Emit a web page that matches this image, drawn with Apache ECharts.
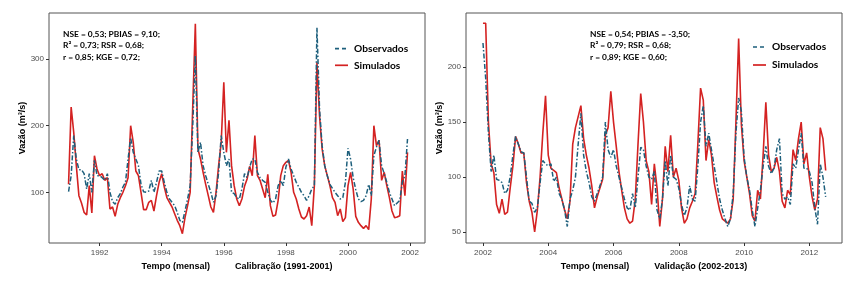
<!DOCTYPE html>
<html>
<head>
<meta charset="utf-8">
<script src="https://cdn.jsdelivr.net/npm/echarts@6/dist/echarts.min.js"></script>
<style>
  html, body { margin: 0; padding: 0; background: #fff; }
  #chart { width: 853px; height: 283px; }
</style>
</head>
<body>
<div id="chart"></div>
<script>
// monthly series, calibration starts Jan 1991, validation starts Jan 2002
const calStart = 1991;
const valStart = 2002;

const calObs = [
  101, 125, 185, 150, 134, 134, 128, 105, 128, 100, 148, 125,
  125, 122, 118, 128, 100, 86, 82, 92, 98, 108, 115, 150,
  182, 160, 150, 140, 112, 101, 100, 102, 118, 100, 115, 132,
  132, 115, 100, 90, 85, 80, 70, 58, 55, 72, 90, 110,
  200, 305, 160, 175, 140, 125, 112, 100, 85, 95, 130, 185,
  160, 140, 150, 100, 98, 92, 90, 105, 128, 122, 138, 150,
  150, 130, 122, 118, 115, 100, 88, 84, 90, 110, 118, 110,
  138, 150, 135, 125, 115, 108, 100, 95, 88, 95, 105, 110,
  347, 225, 170, 140, 125, 112, 106, 100, 95, 90, 92, 115,
  166, 150, 122, 104, 90, 86, 88, 95, 112, 95, 155, 168,
  178, 140, 128, 115, 100, 90, 80, 84, 88, 115, 125, 180
];
const calSim = [
  112, 228, 190, 140, 95, 84, 70, 66, 110, 69, 155, 135,
  125, 128, 118, 122, 75, 78, 64, 82, 92, 100, 110, 122,
  200, 175, 132, 125, 100, 74, 74, 85, 88, 72, 95, 115,
  128, 108, 92, 85, 78, 68, 58, 50, 38, 62, 80, 100,
  230, 353, 165, 150, 130, 112, 95, 78, 70, 100, 140, 175,
  265, 160, 208, 140, 110, 90, 80, 90, 109, 120, 139, 125,
  185, 125, 118, 105, 92, 127, 80, 64, 66, 88, 125, 140,
  145, 148, 130, 100, 90, 75, 63, 60, 65, 78, 50, 110,
  295, 215, 165, 140, 125, 110, 92, 85, 65, 75, 56, 62,
  110, 130, 105, 64, 55, 50, 46, 50, 44, 90, 200, 170,
  178, 118, 130, 110, 92, 72, 62, 63, 65, 132, 95, 160
];
const valObs = [
  222, 190, 140, 105, 120, 98, 97, 95, 85, 88, 100, 120,
  137, 130, 123, 122, 100, 78, 76, 68, 72, 95, 115, 112,
  110, 112, 96, 100, 85, 80, 70, 55, 80, 88, 100, 130,
  158, 120, 105, 95, 82, 78, 85, 92, 100, 150, 125, 118,
  125, 110, 100, 90, 80, 72, 70, 85, 72, 100, 127, 125,
  110, 100, 98, 105, 70, 62, 80, 115, 92, 120, 100, 98,
  90, 75, 65, 72, 92, 80, 78, 110, 150, 165, 128, 140,
  125, 110, 95, 80, 70, 62, 55, 62, 85, 140, 172, 160,
  118, 100, 88, 70, 55, 72, 88, 110, 128, 110, 103, 108,
  125, 135, 85, 80, 82, 75, 112, 108, 125, 140, 108, 108,
  105, 95, 72, 57, 112, 100, 82
];
const valSim = [
  240, 240, 150, 112, 104, 75, 67, 80, 66, 68, 90, 110,
  137, 130, 122, 122, 95, 78, 68, 50, 70, 100, 140, 174,
  120, 108, 106, 104, 90, 80, 70, 62, 78, 130, 145, 155,
  165, 135, 120, 108, 92, 72, 82, 90, 98, 138, 145, 178,
  150, 128, 105, 88, 72, 62, 58, 60, 80, 130, 176, 150,
  115, 105, 75, 112, 90, 55, 80, 128, 105, 138, 100, 108,
  97, 72, 58, 62, 72, 78, 85, 130, 181, 170, 115, 134,
  120, 95, 82, 70, 62, 60, 58, 62, 80, 150, 226, 148,
  115, 100, 85, 65, 60, 88, 80, 120, 168, 120, 105, 108,
  118, 105, 78, 72, 88, 84, 125, 115, 135, 150, 112, 122,
  100, 82, 70, 80, 145, 135, 106
];

const calTicks = [1992, 1994, 1996, 1998, 2000, 2002];
const valTicks = [2002, 2004, 2006, 2008, 2010, 2012];
const calYTicks = [100, 200, 300];
const valYTicks = [50, 100, 150, 200];

const calStats = ['NSE = 0,53; PBIAS = 9,10;', 'R² = 0,73; RSR = 0,68;', 'r = 0,85; KGE = 0,72;'];
const valStats = ['NSE = 0,54; PBIAS = -3,50;', 'R² = 0,79; RSR = 0,68;', 'r = 0,89; KGE = 0,60;'];
const legendNames = ['Observados', 'Simulados'];

const obsColor = '#1d5f7c';
const simColor = '#d42222';
const obsDash = [5, 2, 1.5, 2];

function toPairs(start, vals) {
  return vals.map((v, i) => [start + i / 12, v]);
}

const chart = echarts.init(document.getElementById('chart'));

function xAxis(idx, min, max, ticks, title) {
  return {
    type: 'value', gridIndex: idx, min: min, max: max,
    name: title, nameLocation: 'middle', nameGap: 16,
    nameTextStyle: { fontFamily: 'Liberation Sans', fontWeight: 'bold', fontSize: 9, color: '#000' },
    axisLine: { show: false },
    axisTick: { show: true, length: 3, customValues: ticks, lineStyle: { color: '#333' } },
    axisLabel: { customValues: ticks, margin: 6, color: '#4d4d4d', fontFamily: 'Liberation Sans', fontSize: 8,
      formatter: v => String(Math.round(v)) },
    splitLine: { show: false }
  };
}
function yAxis(idx, min, max, ticks) {
  return {
    type: 'value', gridIndex: idx, min: min, max: max,
    name: 'Vazão (m³/s)', nameLocation: 'middle', nameGap: 19,
    nameTextStyle: { fontFamily: 'Liberation Sans', fontWeight: 'bold', fontSize: 9, color: '#000' },
    axisLine: { show: false },
    axisTick: { show: true, length: 3, customValues: ticks, lineStyle: { color: '#333' } },
    axisLabel: { customValues: ticks, margin: 5, color: '#4d4d4d', fontFamily: 'Liberation Sans', fontSize: 8 },
    splitLine: { show: false }
  };
}

// hand-drawn legend: short line sample + label
function legendItems(x, ys) {
  const out = [];
  legendNames.forEach((name, k) => {
    const obs = k === 0;
    out.push({
      type: 'line', shape: { x1: x, y1: ys[k], x2: x + 13, y2: ys[k] },
      style: { stroke: obs ? obsColor : simColor, lineWidth: 1.7, lineDash: obs ? [4, 3] : null }
    });
    out.push({
      type: 'text', x: x + 19, y: ys[k],
      style: { text: name, fill: '#000', font: 'bold 10.2px Lato', textVerticalAlign: 'middle' }
    });
  });
  return out;
}

function statsText(x, y, lines) {
  return {
    type: 'text', x: x, y: y,
    style: { text: lines.join('\n'), fill: '#000', font: 'bold 8.4px Lato', lineHeight: 11.7 }
  };
}

chart.setOption({
  animation: false,
  backgroundColor: '#fff',
  grid: [
    { left: 49, top: 13, width: 376, height: 230, show: true, borderColor: '#555', borderWidth: 1, backgroundColor: '#fff' },
    { left: 466, top: 13, width: 376, height: 230, show: true, borderColor: '#555', borderWidth: 1, backgroundColor: '#fff' }
  ],
  xAxis: [
    xAxis(0, 1990.37, 2002.48, calTicks, 'Tempo (mensal)          Calibração (1991-2001)'),
    xAxis(1, 2001.48, 2013.0, valTicks, 'Tempo (mensal)          Validação (2002-2013)')
  ],
  yAxis: [
    yAxis(0, 24, 369, calYTicks),
    yAxis(1, 40, 249.3, valYTicks)
  ],
  graphic: [
    statsText(63, 28, calStats),
    statsText(590, 28, valStats)
  ].concat(legendItems(335, [48.7, 65.3]), legendItems(753, [47, 65])),
  series: [
    { name: 'Simulados', type: 'line', xAxisIndex: 0, yAxisIndex: 0, showSymbol: false,
      data: toPairs(calStart, calSim), lineStyle: { color: simColor, width: 1.6 } },
    { name: 'Observados', type: 'line', xAxisIndex: 0, yAxisIndex: 0, showSymbol: false,
      data: toPairs(calStart, calObs), lineStyle: { color: obsColor, width: 1.5, type: obsDash } },
    { name: 'Simulados', type: 'line', xAxisIndex: 1, yAxisIndex: 1, showSymbol: false,
      data: toPairs(valStart, valSim), lineStyle: { color: simColor, width: 1.6 } },
    { name: 'Observados', type: 'line', xAxisIndex: 1, yAxisIndex: 1, showSymbol: false,
      data: toPairs(valStart, valObs), lineStyle: { color: obsColor, width: 1.5, type: obsDash } }
  ]
});
</script>
</body>
</html>
